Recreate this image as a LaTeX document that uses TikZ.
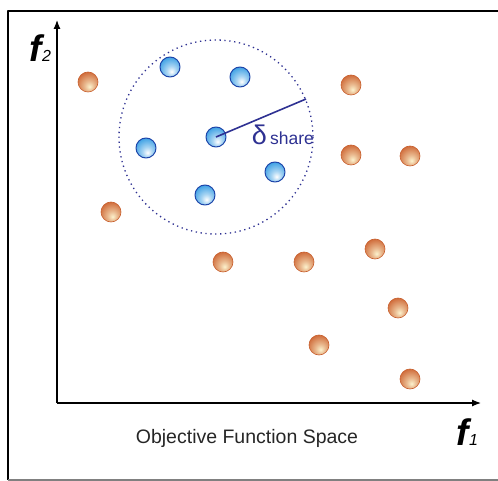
\documentclass[tikz,border=0pt]{standalone}
\usepackage{fontspec}
\setmainfont{Liberation Sans}
\usepackage{tikz}
\usetikzlibrary{arrows.meta}
\definecolor{deepblue}{RGB}{46,49,146}
\definecolor{rimblue}{RGB}{30,70,170}
\definecolor{skyblue}{RGB}{40,150,225}
\definecolor{rimorange}{RGB}{200,95,45}
\definecolor{clay}{RGB}{205,100,50}
\definecolor{cream}{RGB}{252,242,205}
\pgfdeclareradialshading{orangeball}{\pgfpoint{4bp}{-12bp}}{color(0bp)=(cream); color(12bp)=(cream!60!clay); color(34bp)=(clay); color(70bp)=(clay!85!black)}
\pgfdeclareradialshading{blueball}{\pgfpoint{4bp}{-12bp}}{color(0bp)=(white); color(12bp)=(white!60!skyblue); color(36bp)=(skyblue); color(70bp)=(skyblue!85!black)}
\newcommand{\axisname}[1]{{\fontsize{37}{39}\selectfont\bfseries\itshape f}\kern0.5pt{\fontsize{16}{16}\selectfont\itshape #1}}
\tikzset{
  orangedot/.style={circle,inner sep=0pt,minimum size=20pt,shading=orangeball,draw=rimorange,line width=0.6pt},
  bluedot/.style={circle,inner sep=0pt,minimum size=20pt,shading=blueball,draw=rimblue,line width=1pt},
  axislabel/.style={inner sep=0pt,anchor=base west}
}

\begin{document}
\begin{tikzpicture}[x=1pt,y=-1pt,line join=round]
  \useasboundingbox (0,0) rectangle (498,481);
  % frame, axes and the sharing radius
  \draw[line width=1.6pt] (8,480) -- (8,11) -- (499,11);
  \draw[gray,line width=1.2pt] (8,480) -- (499,480);
  \coordinate (origin) at (57,403);
  \coordinate (ytip) at (57,20);
  \coordinate (xtip) at (481,403);
  \draw[line width=1.2pt,-{Latex[length=9pt,width=7pt]}] (origin) -- (ytip);
  \draw[line width=1.2pt,-{Latex[length=9pt,width=7pt]}] (origin) -- (xtip);
  \draw[deepblue,line width=1.3pt,dash pattern=on 1.3pt off 3.6pt] (216,137) circle (97);
  \foreach \p/\n in {(88,82)/o1,(351,85)/o2,(351,155)/o3,(410,156)/o4,(111,212)/o5,(223,262)/o6,(304,262)/o7,(375,249)/o8,(398,308)/o9,(319,345)/o10,(410,379)/o11}{\node[orangedot] (\n) at \p {};}
  \foreach \p/\n in {(170,67)/b1,(240,77)/b2,(146,148)/b3,(216,137)/b4,(275,172)/b5,(205,195)/b6}{\node[bluedot] (\n) at \p {};}
  \coordinate (rim) at (306,99);
  \draw[deepblue,line width=1.6pt] (b4.center) -- (rim);
  \node[anchor=base east,inner sep=0pt,deepblue,font=\fontsize{27}{29}\selectfont] (delta) at (267,145) {δ};
  \node[anchor=base west,inner sep=0pt,deepblue,font=\fontsize{17.5}{19}\selectfont] (share) at (270,145) {share};
  \node[axislabel] (ftwo) at (29,62) {\axisname{2}};
  \node[axislabel] (fone) at (456,445) {\axisname{1}};
  \node[inner sep=0pt,font=\fontsize{19.5}{22}\selectfont,black!85] (space) at (247,438) {Objective Function Space};
\end{tikzpicture}
\end{document}
